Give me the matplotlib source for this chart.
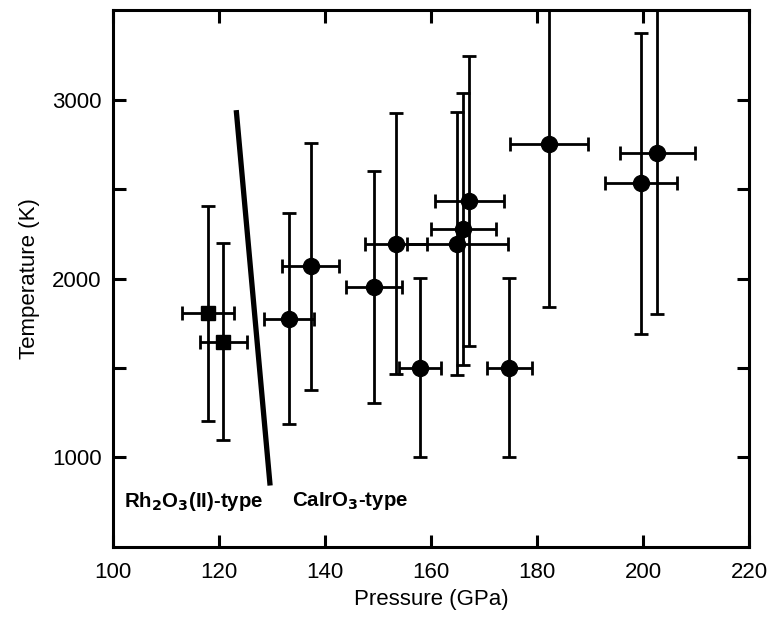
import matplotlib
matplotlib.use("Agg")
import matplotlib.pyplot as plt
import numpy as np

plt.rcParams['font.family'] = ['Liberation Sans', 'DejaVu Sans']

# Rh2O3(II)-type (squares)
sq_p = [117.9, 120.8]
sq_t = [1805, 1646]
sq_perr = [4.9, 4.4]
sq_terr = [600, 550]

# CaIrO3-type (circles)
ci_p = [133.2, 137.3, 149.3, 153.4, 157.9, 165.0, 166.1, 167.2, 174.8, 182.3, 199.7, 202.7]
ci_t = [1775, 2069, 1953, 2194, 1501, 2194, 2278, 2432, 1501, 2754, 2531, 2702]
ci_perr = [4.7, 5.4, 5.3, 5.8, 4.0, 9.6, 6.1, 6.5, 4.2, 7.4, 6.8, 7.1]
ci_terr = [590, 690, 650, 730, 500, 735, 760, 810, 500, 912, 843, 900]

# phase boundary
bound_p = [123.3, 129.6]
bound_t = [2926, 858]

fig = plt.figure(figsize=(7.67, 6.18), dpi=100)
ax = fig.add_axes([0.1473, 0.1149, 0.8292, 0.8689])

ekw = dict(fmt='none', ecolor='black', elinewidth=2.0, capsize=4.8, capthick=2.0, zorder=2)
ax.errorbar(sq_p, sq_t, xerr=sq_perr, yerr=sq_terr, **ekw)
ax.errorbar(ci_p, ci_t, xerr=ci_perr, yerr=ci_terr, **ekw)
ax.plot(sq_p, sq_t, 's', color='black', markersize=10.5, zorder=3)
ax.plot(ci_p, ci_t, 'o', color='black', markersize=11.5, zorder=3)
ax.plot(bound_p, bound_t, '-', color='black', linewidth=3.8, zorder=2)

ax.text(102, 755, r'Rh$_\mathbf{2}$O$_\mathbf{3}$(II)-type', fontsize=14.7, fontweight='bold', va='center', ha='left')
ax.text(133.8, 755, r'CaIrO$_\mathbf{3}$-type', fontsize=14.7, fontweight='bold', va='center', ha='left')

ax.set_xlim(100, 220)
ax.set_ylim(500, 3500)
ax.set_xticks([100, 120, 140, 160, 180, 200, 220])
ax.set_yticks([1000, 2000, 3000])
ax.set_yticks([1500, 2500], minor=True)
ax.tick_params(which='both', direction='in', top=True, right=True, width=2.2, length=9, labelsize=16)
ax.tick_params(axis='y', pad=8)
ax.tick_params(axis='x', pad=11)
for s in ax.spines.values():
    s.set_linewidth(2.2)
ax.set_xlabel('Pressure (GPa)', fontsize=16, labelpad=4)
ax.set_ylabel('Temperature (K)', fontsize=16, labelpad=9)

fig.savefig('out.png', dpi=100)
